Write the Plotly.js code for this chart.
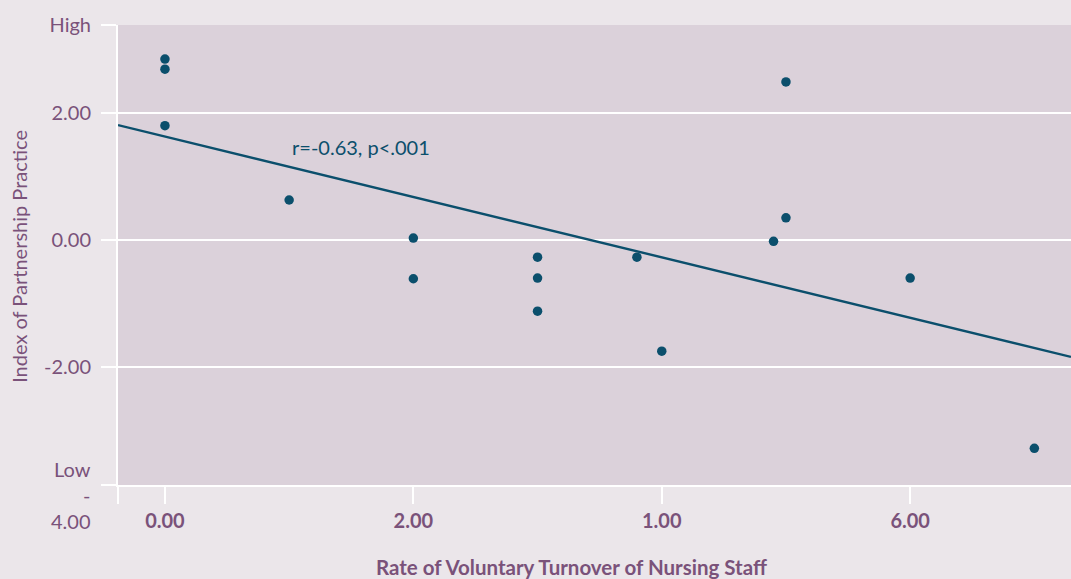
<!DOCTYPE html>
<html>
<head>
<meta charset="utf-8">
<script src="https://cdn.plot.ly/plotly-3.0.1.min.js"></script>
<style>html,body{margin:0;padding:0;background:#ebe6ea;}#chart{width:1071px;height:579px;}</style>
</head>
<body>
<div id="chart"></div>
<script>
// Data
const turnover = [0, 0, 0, 1.0, 2.0, 2.0, 3.0, 3.0, 3.0, 3.8, 4.0, 4.9, 5.0, 5.0, 6.0, 7.0];
const partnership = [2.85, 2.69, 1.80, 0.63, 0.03, -0.61, -0.27, -0.60, -1.12, -0.27, -1.75, -0.02, 2.49, 0.35, -0.60, -3.28];
// Fitted line endpoints as drawn
const fitX = [-0.378, 7.295];
const fitY = [1.81, -1.84];
// Axis ticks
const xTickVals = [-0.378, 0, 2, 4, 6];
const xTickText = ['', '0.00', '2.00', '1.00', '6.00'];
const yTickVals = [-3.858, -2, 0, 2, 3.386];
const yTickText = ['', '-2.00', '0.00', '2.00', 'High'];
const lowLabel = 'Low<br>-<br>4.00';
const xTitle = 'Rate of Voluntary Turnover of Nursing Staff';
const yTitle = 'Index of Partnership Practice';
const annotText = 'r=-0.63, p<.001';

const teal = '#0b4f6c';
const purple = '#7a527a';
const font = 'Lato, "Open Sans", sans-serif';

const traces = [
  {x: fitX, y: fitY, mode: 'lines', line: {color: teal, width: 2.4}, hoverinfo: 'skip', showlegend: false},
  {x: turnover, y: partnership, mode: 'markers', marker: {color: teal, size: 9.5}, showlegend: false}
];

const layout = {
  width: 1071, height: 579,
  paper_bgcolor: '#ebe6ea',
  plot_bgcolor: '#dbd1da',
  margin: {l: 118, r: 0, t: 25, b: 94},
  font: {family: font, color: purple, size: 20},
  showlegend: false,
  xaxis: {
    range: [fitX[0], fitX[1]],
    tickvals: xTickVals, ticktext: xTickText,
    ticks: 'outside', ticklen: 17, tickwidth: 2, tickcolor: '#ffffff',
    showgrid: false, zeroline: false,
    showline: true, linecolor: '#ffffff', linewidth: 2,
    tickfont: {family: font, size: 20, color: purple, weight: 'bold'}
  },
  yaxis: {
    range: [yTickVals[0], yTickVals[4]],
    tickvals: yTickVals, ticktext: yTickText,
    ticks: 'outside', ticklen: 15, tickwidth: 2, tickcolor: '#ffffff',
    ticklabelstandoff: 6,
    showgrid: true, gridcolor: '#ffffff', gridwidth: 2,
    zeroline: false, showline: true, linecolor: '#ffffff', linewidth: 2,
    tickfont: {family: font, size: 20, color: purple}
  },
  annotations: [
    {x: 1.58, y: 1.46, xref: 'x', yref: 'y', text: annotText, showarrow: false,
     font: {family: font, size: 20, color: teal}},
    {x: 0, y: yTickVals[0], xref: 'paper', yref: 'y', text: lowLabel, showarrow: false,
     xanchor: 'right', yanchor: 'middle', align: 'right', xshift: -25, yshift: -10,
     font: {family: font, size: 20, color: purple}},
    {x: 0.476, y: 0, xref: 'paper', yref: 'paper', text: xTitle, showarrow: false,
     xanchor: 'center', yanchor: 'middle', yshift: -82,
     font: {family: font, size: 20.5, color: purple, weight: 'bold'}},
    {x: 0, y: 0.496, xref: 'paper', yref: 'paper', text: yTitle, showarrow: false,
     textangle: -90, xanchor: 'center', yanchor: 'middle', xshift: -99,
     font: {family: font, size: 20, color: purple}}
  ]
};

Plotly.newPlot('chart', traces, layout, {displayModeBar: false, staticPlot: true});
</script>
</body>
</html>
